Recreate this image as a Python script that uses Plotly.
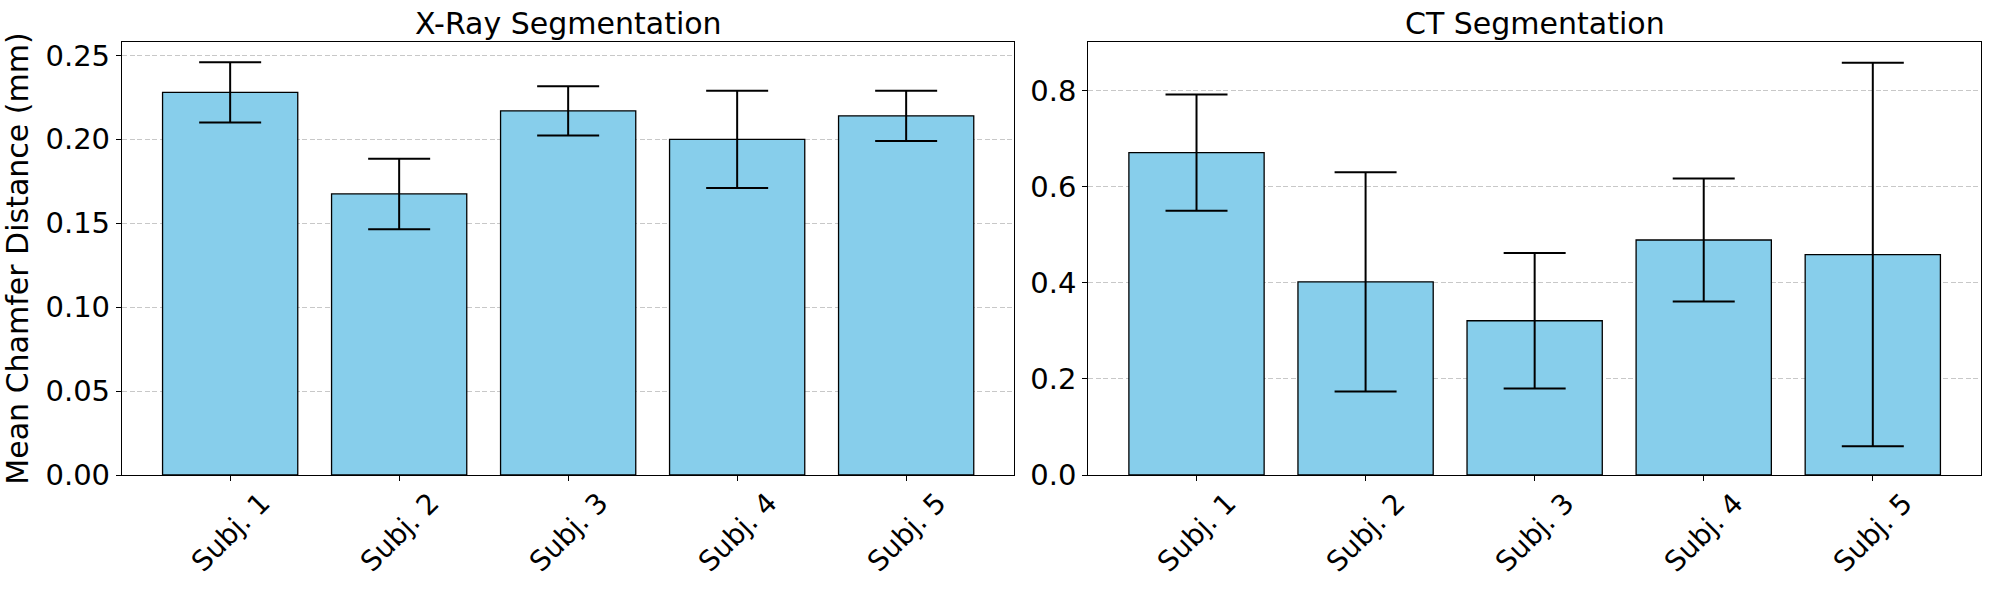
import plotly.graph_objects as go
from plotly.subplots import make_subplots

subjects = ["Subj. 1", "Subj. 2", "Subj. 3", "Subj. 4", "Subj. 5"]
xray_mean = [0.228, 0.1675, 0.217, 0.2, 0.214]
xray_err = [0.018, 0.021, 0.0147, 0.029, 0.015]
ct_mean = [0.671, 0.402, 0.321, 0.489, 0.4586]
ct_err = [0.121, 0.228, 0.141, 0.128, 0.399]
titles = ["X-Ray Segmentation", "CT Segmentation"]
y_label = "Mean Chamfer Distance (mm)"

FONT = "DejaVu Sans"
BAR_COLOR = "#87CEEB"
TICK_FONT = dict(family=FONT, size=29, color="black")

fig = make_subplots(rows=1, cols=2, horizontal_spacing=0.04)

for col, (means, errs) in enumerate([(xray_mean, xray_err), (ct_mean, ct_err)], start=1):
    fig.add_trace(
        go.Bar(
            x=subjects, y=means,
            marker=dict(color=BAR_COLOR, line=dict(color="black", width=1.3)),
            error_y=dict(type="data", array=errs, visible=True, color="black",
                         thickness=2, width=31),
            showlegend=False,
        ),
        row=1, col=col,
    )

left_dom = [0.0, 0.48]
right_dom = [0.5198, 1.0]

for ax_name, dom in [("xaxis", left_dom), ("xaxis2", right_dom)]:
    fig.layout[ax_name].update(
        domain=dom, range=[-0.64, 4.64],
        showline=True, linecolor="black", linewidth=1.3, mirror=True,
        ticks="outside", ticklen=5, tickwidth=1.3, tickcolor="black",
        showticklabels=False, showgrid=False, zeroline=False,
    )

for ax_name, rng, dt, fmt in [("yaxis", [0, 0.258], 0.05, ".2f"),
                              ("yaxis2", [0, 0.901], 0.2, ".1f")]:
    fig.layout[ax_name].update(
        range=rng, dtick=dt, tick0=0, tickformat=fmt,
        showline=True, linecolor="black", linewidth=1.3, mirror=True,
        ticks="outside", ticklen=5, tickwidth=1.3, tickcolor="black",
        tickfont=TICK_FONT,
        showgrid=True, gridcolor="#c8c8c8", gridwidth=1, griddash="5px,2.5px",
        zeroline=False,
    )

fig.layout.yaxis.title = dict(text=y_label, font=dict(family=FONT, size=30, color="black"),
                              standoff=14)

annotations = []
for i, (xa, dom) in enumerate([("x", left_dom), ("x2", right_dom)]):
    annotations.append(dict(
        text=titles[i], xref="paper", yref="paper",
        x=(dom[0] + dom[1]) / 2, y=1.0, yshift=-1,
        xanchor="center", yanchor="bottom", showarrow=False,
        font=dict(family=FONT, size=30, color="black"),
    ))
    for s in subjects:
        annotations.append(dict(
            text=s, xref=xa, yref=("y domain" if i == 0 else "y2 domain"),
            x=s, y=0, yshift=-57, xanchor="center", yanchor="middle",
            textangle=-45, showarrow=False,
            font=dict(family=FONT, size=28, color="black"),
        ))

fig.update_layout(
    width=1990, height=590,
    margin=dict(l=122, r=9, t=42, b=115),
    plot_bgcolor="white", paper_bgcolor="white",
    bargap=0.2,
    annotations=annotations,
    font=dict(family=FONT, size=28, color="black"),
)

fig.write_html("out.html",
               config={"displayModeBar": False},
               post_script="document.body.style.margin='0';document.body.style.overflow='hidden';")
